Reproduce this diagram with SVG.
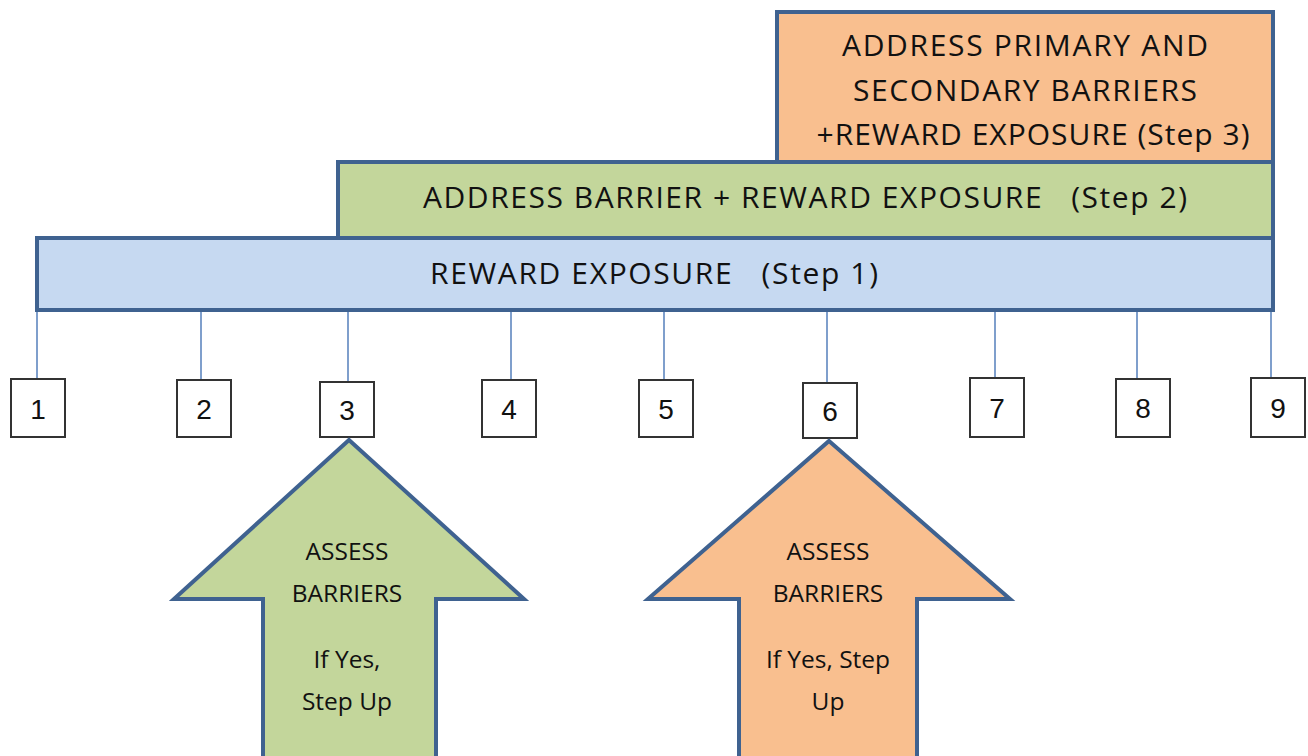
<svg xmlns="http://www.w3.org/2000/svg" width="1308" height="756" viewBox="0 0 1308 756">
<style>
.bar{stroke:#3f6290;stroke-width:4}
.t{font-family:"Open Sans","Liberation Sans",sans-serif;fill:#111;text-anchor:middle}
.big{font-size:30px}
.sm{font-size:24.5px}
.num rect{fill:#fff;stroke:#333;stroke-width:2}
.num text{font-family:"Liberation Sans",Arial,sans-serif;font-size:28px;fill:#111;text-anchor:middle}
.conn line{stroke:#7f9fcc;stroke-width:2}
.arrow{stroke:#3f6290;stroke-width:4;stroke-linejoin:miter}
</style>
<rect width="1308" height="756" fill="#fff"/>
<g id="connectors" class="conn">
<line x1="37" y1="310" x2="37" y2="379"/>
<line x1="201" y1="310" x2="201" y2="380"/>
<line x1="348" y1="310" x2="348" y2="382"/>
<line x1="511" y1="310" x2="511" y2="380"/>
<line x1="664" y1="310" x2="664" y2="380"/>
<line x1="827" y1="310" x2="827" y2="382"/>
<line x1="995" y1="310" x2="995" y2="378"/>
<line x1="1137" y1="310" x2="1137" y2="379"/>
<line x1="1271" y1="310" x2="1271" y2="378"/>
</g>
<g id="step3">
<rect class="bar" x="777" y="12" width="496" height="150" fill="#f9bf8f"/>
<text class="t big" x="1025" y="56" textLength="366" lengthAdjust="spacing">ADDRESS PRIMARY AND</text>
<text class="t big" x="1025" y="101" textLength="344" lengthAdjust="spacing">SECONDARY BARRIERS</text>
<text class="t big" x="1033" y="145" textLength="433" lengthAdjust="spacing">+REWARD EXPOSURE (Step 3)</text>
</g>
<g id="step2">
<rect class="bar" x="338" y="162" width="935" height="76" fill="#c3d69b"/>
<text class="t big" x="805" y="208" textLength="764" lengthAdjust="spacing" xml:space="preserve">ADDRESS BARRIER + REWARD EXPOSURE   (Step 2)</text>
</g>
<g id="step1">
<rect class="bar" x="37" y="238" width="1236" height="72" fill="#c6d9f1"/>
<text class="t big" x="654" y="284" textLength="448" lengthAdjust="spacing" xml:space="preserve">REWARD EXPOSURE   (Step 1)</text>
</g>
<g id="n1" class="num"><rect x="11" y="379" width="54" height="58"/><text x="38" y="419">1</text></g>
<g id="n2" class="num"><rect x="177" y="380" width="54" height="57"/><text x="204" y="419">2</text></g>
<g id="n3" class="num"><rect x="320" y="382" width="54" height="55"/><text x="347" y="420">3</text></g>
<g id="n4" class="num"><rect x="482" y="380" width="54" height="57"/><text x="509" y="419">4</text></g>
<g id="n5" class="num"><rect x="639" y="380" width="54" height="57"/><text x="666" y="419">5</text></g>
<g id="n6" class="num"><rect x="803" y="383" width="54" height="55"/><text x="830" y="421">6</text></g>
<g id="n7" class="num"><rect x="970" y="378" width="54" height="59"/><text x="997" y="418">7</text></g>
<g id="n8" class="num"><rect x="1116" y="379" width="54" height="58"/><text x="1143" y="418">8</text></g>
<g id="n9" class="num"><rect x="1251" y="378" width="54" height="59"/><text x="1278" y="418">9</text></g>
<g id="arrow-green">
<polygon class="arrow" fill="#c3d69b" points="349,440 524,599 436,599 436,760 263,760 263,599 174,599"/>
<text class="t sm" x="347" y="560">ASSESS</text>
<text class="t sm" x="347" y="602">BARRIERS</text>
<text class="t sm" x="347" y="668">If Yes,</text>
<text class="t sm" x="347" y="710">Step Up</text>
</g>
<g id="arrow-orange">
<polygon class="arrow" fill="#f9bf8f" points="829,441 1010,599 917,599 917,760 739,760 739,599 648,599"/>
<text class="t sm" x="828" y="560">ASSESS</text>
<text class="t sm" x="828" y="602">BARRIERS</text>
<text class="t sm" x="828" y="668">If Yes, Step</text>
<text class="t sm" x="828" y="710">Up</text>
</g>
</svg>
